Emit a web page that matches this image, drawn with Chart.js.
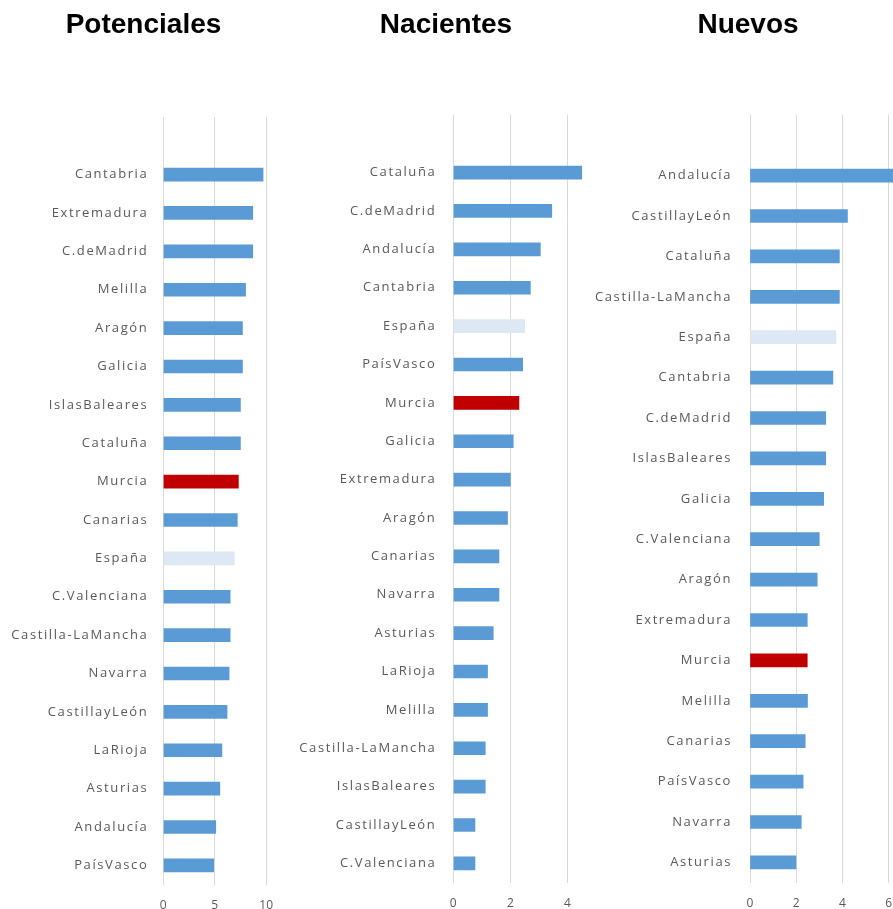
<!DOCTYPE html>
<html>
<head>
<meta charset="utf-8">
<script src="https://cdn.jsdelivr.net/npm/chart.js@4.4.1/dist/chart.umd.min.js"></script>
<style>
  html, body { margin: 0; padding: 0; background: #ffffff; overflow: hidden; width: 893px; height: 909px; position: relative; }
  .box { position: absolute; top: 0; height: 925px; }
</style>
</head>
<body>
<div class="box" id="b1" style="left:0px;top:2px;width:287px;"><canvas id="c1"></canvas></div>
<div class="box" id="b2" style="left:296px;width:300px;"><canvas id="c2"></canvas></div>
<div class="box" id="b3" style="left:590px;width:316px;"><canvas id="c3"></canvas></div>
<script>
// ---- Data ----
const titles = ['Potenciales', 'Nacientes', 'Nuevos'];

const potencialesLabels = ['Cantabria', 'Extremadura', 'C.deMadrid', 'Melilla', 'Aragón', 'Galicia', 'IslasBaleares', 'Cataluña', 'Murcia', 'Canarias', 'España', 'C.Valenciana', 'Castilla-LaMancha', 'Navarra', 'CastillayLeón', 'LaRioja', 'Asturias', 'Andalucía', 'PaísVasco'];
const potencialesValues = [9.7, 8.7, 8.7, 8.0, 7.7, 7.7, 7.5, 7.5, 7.3, 7.2, 6.9, 6.5, 6.5, 6.4, 6.2, 5.7, 5.5, 5.1, 4.9];
const potencialesTicks = [0, 5, 10];

const nacientesLabels = ['Cataluña', 'C.deMadrid', 'Andalucía', 'Cantabria', 'España', 'PaísVasco', 'Murcia', 'Galicia', 'Extremadura', 'Aragón', 'Canarias', 'Navarra', 'Asturias', 'LaRioja', 'Melilla', 'Castilla-LaMancha', 'IslasBaleares', 'CastillayLeón', 'C.Valenciana'];
const nacientesValues = [4.5, 3.45, 3.05, 2.7, 2.5, 2.43, 2.3, 2.1, 2.0, 1.9, 1.6, 1.6, 1.4, 1.2, 1.2, 1.12, 1.12, 0.76, 0.76];
const nacientesTicks = [0, 2, 4];

const nuevosLabels = ['Andalucía', 'CastillayLeón', 'Cataluña', 'Castilla-LaMancha', 'España', 'Cantabria', 'C.deMadrid', 'IslasBaleares', 'Galicia', 'C.Valenciana', 'Aragón', 'Extremadura', 'Murcia', 'Melilla', 'Canarias', 'PaísVasco', 'Navarra', 'Asturias'];
const nuevosValues = [6.3, 4.22, 3.87, 3.87, 3.72, 3.59, 3.28, 3.28, 3.19, 3.0, 2.91, 2.48, 2.48, 2.49, 2.39, 2.3, 2.22, 1.99];
const nuevosTicks = [0, 2, 4, 6];

// ---- Styling ----
const BLUE = '#5B9BD5', RED = '#C00000', LIGHT = '#DDE8F4';
const GRID = '#D9D9D9', TEXT = '#595959';

function barColor(label) {
  if (label === 'Murcia') return RED;
  if (label === 'España') return LIGHT;
  return BLUE;
}

const spacedLabels = {
  id: 'spacedLabels',
  beforeDraw(chart) {
    const s = chart.scales.y;
    if (s && !s._spacedPatched) {
      const orig = s.drawLabels.bind(s);
      s.drawLabels = function (area) {
        const ctx = this.ctx;
        ctx.save();
        ctx.letterSpacing = '1.6px';
        orig(area);
        ctx.restore();
      };
      s._spacedPatched = true;
    }
  }
};

function makeChart(id, title, labels, values, ticks, max, yWidth, yPad, titleTop) {
  // a blank leading row keeps the empty band above the first bar, as in the source
  const cats = [''].concat(labels);
  const vals = [null].concat(values);
  new Chart(document.getElementById(id), {
    type: 'bar',
    data: {
      labels: cats,
      datasets: [{
        data: vals,
        backgroundColor: cats.map(barColor),
        borderWidth: 0,
        barThickness: 13
      }]
    },
    plugins: [spacedLabels],
    options: {
      indexAxis: 'y',
      responsive: true,
      maintainAspectRatio: false,
      animation: false,
      layout: { padding: 0 },
      plugins: {
        legend: { display: false },
        tooltip: { enabled: false },
        title: {
          display: true,
          text: title,
          color: '#000000',
          font: { family: '"Liberation Sans Narrow", "Liberation Sans", Arial, sans-serif', size: 28, weight: 'bold' },
          padding: { top: titleTop, bottom: 81.4 - titleTop }
        }
      },
      scales: {
        x: {
          type: 'linear',
          min: 0,
          max: max,
          afterBuildTicks(scale) {
            scale.ticks = ticks.map(v => ({ value: v }));
          },
          grid: { color: GRID, lineWidth: 1, drawTicks: false },
          border: { display: false },
          ticks: {
            color: TEXT,
            padding: 14,
            font: { family: '"Open Sans", sans-serif', size: 12 }
          }
        },
        y: {
          grid: { display: false, drawTicks: false },
          border: { display: false },
          afterFit(scale) { scale.width = yWidth; },
          ticks: {
            color: TEXT,
            padding: yPad,
            autoSkip: false,
            font: { family: '"Open Sans", sans-serif', size: 13 }
          }
        }
      }
    }
  });
}

makeChart('c1', titles[0], potencialesLabels, potencialesValues, potencialesTicks, 10, 163.3, 15, 6);
makeChart('c2', titles[1], nacientesLabels, nacientesValues, nacientesTicks, 5, 157.3, 17, 8);
makeChart('c3', titles[2], nuevosLabels, nuevosValues, nuevosTicks, 6.4, 160, 18, 8);
</script>
</body>
</html>
